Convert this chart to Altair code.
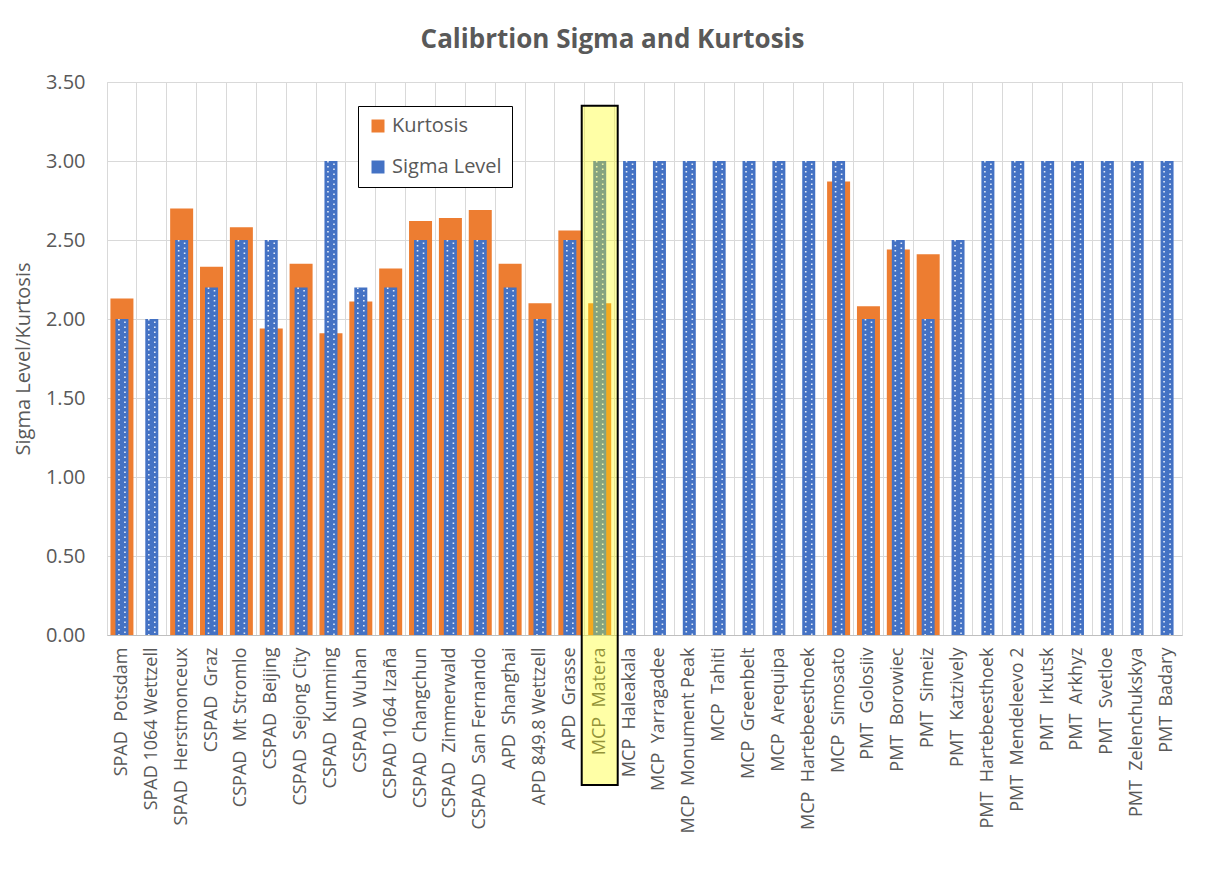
import altair as alt
import pandas as pd

stations = [
    "SPAD  Potsdam", "SPAD 1064 Wettzell", "SPAD  Herstmonceux", "CSPAD  Graz",
    "CSPAD  Mt Stromlo", "CSPAD  Beijing", "CSPAD  Sejong City", "CSPAD  Kunming",
    "CSPAD  Wuhan", "CSPAD 1064 Izaña", "CSPAD  Changchun", "CSPAD  Zimmerwald",
    "CSPAD  San Fernando", "APD  Shanghai", "APD 849.8 Wettzell", "APD  Grasse",
    "MCP  Matera", "MCP  Haleakala", "MCP  Yarragadee", "MCP  Monument Peak",
    "MCP  Tahiti", "MCP  Greenbelt", "MCP  Arequipa", "MCP  Hartebeesthoek",
    "MCP  Simosato", "PMT  Golosiiv", "PMT  Borowiec", "PMT  Simeiz",
    "PMT  Katzively", "PMT  Hartebeesthoek", "PMT  Mendeleevo 2", "PMT  Irkutsk",
    "PMT  Arkhyz", "PMT  Svetloe", "PMT  Zelenchukskya", "PMT  Badary",
]
kurtosis = [
    2.13, None, 2.70, 2.33, 2.58, 1.94, 2.35, 1.91, 2.11, 2.32, 2.62, 2.64,
    2.69, 2.35, 2.10, 2.56, 2.10, None, None, None, None, None, None, None,
    2.87, 2.08, 2.44, 2.41, None, None, None, None, None, None, None, None,
]
sigma = [
    2.0, 2.0, 2.5, 2.2, 2.5, 2.5, 2.2, 3.0, 2.2, 2.2, 2.5, 2.5,
    2.5, 2.2, 2.0, 2.5, 3.0, 3.0, 3.0, 3.0, 3.0, 3.0, 3.0, 3.0,
    3.0, 2.0, 2.5, 2.0, 2.5, 3.0, 3.0, 3.0, 3.0, 3.0, 3.0, 3.0,
]
series_names = ["Kurtosis", "Sigma Level"]
series_colors = ["#ED7D31", "#4472C4"]
y_ticks = [0, 0.5, 1.0, 1.5, 2.0, 2.5, 3.0, 3.5]
highlight_station = "MCP  Matera"
highlight_top = 3.35
highlight_bottom = -0.95

GREY = "#595959"
FONT = "Open Sans"

# keep Excel's double spaces visible in SVG text
label_expr = "replace(datum.label, '  ', '\u00a0 ')"

kdf = pd.DataFrame({"station": stations, "value": kurtosis, "series": "Kurtosis"}).dropna()
sdf = pd.DataFrame({"station": stations, "value": sigma, "series": "Sigma Level"})
hdf = pd.DataFrame({"station": [highlight_station], "top": [highlight_top], "bottom": [highlight_bottom]})

x_enc = alt.X(
    "station:N", sort=stations, title=None,
    scale=alt.Scale(paddingInner=0, paddingOuter=0),
    axis=alt.Axis(
        labelAngle=270, labelFontSize=18, labelColor=GREY, labelFont=FONT,
        labelPadding=12, ticks=False, grid=True, gridColor="#d9d9d9",
        bandPosition=0, domainColor="#bfbfbf", labelLimit=300, labelOverlap=False,
        labelExpr=label_expr,
    ),
)
y_scale = alt.Scale(domain=[0, 3.5], nice=False)
y_axis = alt.Axis(
    values=y_ticks, format=".2f", labelFontSize=20, labelColor=GREY, labelFont=FONT,
    labelPadding=22, ticks=False, domain=False, gridColor="#d9d9d9", labelOverlap=False,
    title="Sigma Level/Kurtosis", titleFontSize=20, titleColor=GREY, titleFont=FONT,
    titleFontWeight="normal", titlePadding=12,
)
color = alt.Color(
    "series:N",
    scale=alt.Scale(domain=series_names, range=series_colors),
    legend=alt.Legend(
        title=None, orient="none", legendX=251, legendY=24,
        strokeColor="black", fillColor="white", padding=10,
        symbolType="square", symbolSize=169, symbolStrokeWidth=0,
        labelFontSize=20, labelColor=GREY, labelFont=FONT, rowPadding=21,
        labelOffset=4,
    ),
)

kbars = alt.Chart(kdf).mark_bar(width=23).encode(
    x=x_enc, y=alt.Y("value:Q", scale=y_scale, axis=y_axis), color=color
)
sbars = alt.Chart(sdf).mark_bar(width=13).encode(
    x=alt.X("station:N", sort=stations), y=alt.Y("value:Q"), color=color
)
dots1 = alt.Chart(sdf).mark_rule(
    color="white", strokeWidth=1.6, strokeDash=[1.6, 3.4], xOffset=-3, opacity=0.85
).encode(x=alt.X("station:N", sort=stations), y="value:Q", y2=alt.datum(0))
dots2 = alt.Chart(sdf).mark_rule(
    color="white", strokeWidth=1.6, strokeDash=[1.6, 3.4], strokeDashOffset=2.5,
    xOffset=3, opacity=0.85
).encode(x=alt.X("station:N", sort=stations), y="value:Q", y2=alt.datum(0))
hl = alt.Chart(hdf).mark_bar(
    width=36, fill="#FFFF00", fillOpacity=0.35, stroke="black", strokeWidth=2, clip=False
).encode(x=alt.X("station:N", sort=stations), y="top:Q", y2="bottom:Q")

chart = alt.layer(kbars, sbars, dots1, dots2, hl).properties(
    width=1075, height=553,
    padding={"left": 5, "top": 19, "right": 10, "bottom": 5},
    title=alt.TitleParams(
        "Calibrtion Sigma and Kurtosis", fontSize=26, font=FONT, fontWeight="bold",
        color=GREY, offset=19, anchor="middle", dx=-32,
    ),
).configure_view(stroke="#d9d9d9").configure_legend(strokeWidth=2).configure(background="white")

chart.save("out.html", embed_options={"renderer": "svg", "actions": False})
